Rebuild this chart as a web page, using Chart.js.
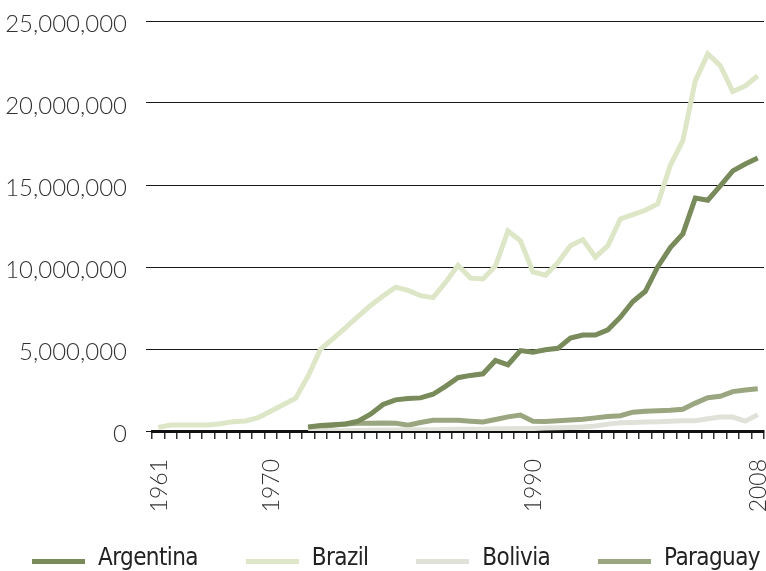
<!DOCTYPE html>
<html lang="en">
<head>
    <meta charset="UTF-8">
    <title>Soybean area, 1961-2008</title>
    <script src="https://cdn.jsdelivr.net/npm/chart.js"></script>
    <style>
        body { margin: 0; background: #fff; }
        .wrap { position: relative; width: 766px; height: 571px; }
        .legend {
            position: absolute; left: 32px; right: 6px; top: 545px;
            display: flex; justify-content: space-between;
            font-family: "Liberation Sans Narrow", "DejaVu Sans Condensed", sans-serif;
            font-size: 24px; line-height: 24px; letter-spacing: -0.6px; color: #222;
        }
        .legend .item { display: flex; align-items: center; }
        .legend .swatch { display: inline-block; width: 53px; height: 5px; margin-right: 13px; position: relative; top: 4px; }
    </style>
</head>
<body>
<div class="wrap">
    <canvas id="areaChart"></canvas>
    <div class="legend" id="legend"></div>
</div>

<script>
    // 49 yearly categories, only four of them are labelled on the axis
    const categoryCount = 49;
    const yearLabels = { 0: '1961', 9: '1970', 30: '1990', 48: '2008' };
    const labels = Array.from({ length: categoryCount }, (_, i) => yearLabels[i] || '');

    const yTicks = [0, 5000000, 10000000, 15000000, 20000000, 25000000];

    const argentina = [
        null, null, null, null, null, null, null, null, null, null, null, null,
        250000, 330000, 380000, 430000, 600000, 1020000, 1620000, 1900000, 1980000, 2020000,
        2240000, 2720000, 3250000, 3390000, 3490000, 4300000, 4040000, 4900000, 4800000, 4950000,
        5040000, 5670000, 5850000, 5850000, 6170000, 6940000, 7900000, 8520000, 10020000, 11180000,
        12020000, 14200000, 14070000, 14950000, 15860000, 16280000, 16650000
    ];
    const brazil = [
        220000, 370000, 370000, 370000, 370000, 440000, 570000, 610000, 820000, 1200000,
        1600000, 2000000, 3350000, 5000000, 5630000, 6310000, 6990000, 7650000, 8230000, 8770000,
        8570000, 8250000, 8130000, 9060000, 10100000, 9330000, 9270000, 10060000, 12200000, 11600000,
        9700000, 9500000, 10260000, 11300000, 11670000, 10600000, 11300000, 12930000, 13200000, 13460000,
        13850000, 16200000, 17700000, 21350000, 22990000, 22270000, 20700000, 21040000, 21660000
    ];
    const bolivia = [
        null, null, null, null, null, null, null, null, null, null, null, null,
        10000, 10000, 20000, 20000, 30000, 40000, 50000, 60000, 70000, 70000,
        80000, 90000, 100000, 100000, 110000, 130000, 140000, 150000, 150000, 180000,
        200000, 220000, 250000, 300000, 420000, 500000, 520000, 550000, 570000, 600000,
        620000, 620000, 750000, 850000, 850000, 600000, 1000000
    ];
    const paraguay = [
        null, null, null, null, null, null, null, null, null, null, null, null,
        150000, 250000, 350000, 430000, 470000, 480000, 490000, 480000, 350000, 520000,
        650000, 650000, 650000, 600000, 550000, 700000, 860000, 970000, 600000, 580000,
        620000, 670000, 720000, 800000, 880000, 930000, 1150000, 1200000, 1240000, 1270000,
        1320000, 1700000, 2030000, 2120000, 2400000, 2500000, 2570000
    ];

    const series = [
        { name: 'Argentina', data: argentina, color: '#798a5b' },
        { name: 'Brazil', data: brazil, color: '#dde6c7' },
        { name: 'Bolivia', data: bolivia, color: '#e0e2da' },
        { name: 'Paraguay', data: paraguay, color: '#99a67f' }
    ];

    Chart.defaults.font.family = 'Lato';
    Chart.defaults.color = '#333';

    const ctx = document.getElementById('areaChart').getContext('2d');
    const areaChart = new Chart(ctx, {
        type: 'line',
        data: {
            labels: labels,
            datasets: series.map(s => ({
                label: s.name,
                data: s.data,
                borderColor: s.color,
                backgroundColor: s.color,
                borderWidth: 5,
                pointRadius: 0,
                tension: 0,
                fill: false
            }))
        },
        options: {
            responsive: true,
            maintainAspectRatio: false,
            animation: false,
            layout: { padding: { top: 21, right: 2, bottom: 0, left: 0 } },
            plugins: {
                legend: { display: false },
                tooltip: { enabled: false }
            },
            scales: {
                x: {
                    type: 'category',
                    offset: true,
                    grid: {
                        offset: true,
                        drawOnChartArea: false,
                        drawTicks: true,
                        tickLength: 8,
                        color: '#333',
                        lineWidth: 1.5
                    },
                    border: { display: true, color: '#111', width: 3 },
                    ticks: {
                        autoSkip: false,
                        minRotation: 90,
                        maxRotation: 90,
                        padding: 20,
                        labelOffset: 1,
                        color: '#333',
                        font: { size: 23, weight: '300' }
                    },
                    afterFit: scale => {
                        scale.height = 140;
                        scale.paddingLeft = 0;
                        scale.paddingRight = 0;
                    }
                },
                y: {
                    min: 0,
                    max: 25000000,
                    afterBuildTicks: scale => {
                        scale.ticks = yTicks.map(v => ({ value: v }));
                    },
                    grid: {
                        color: '#1a1a1a',
                        lineWidth: 1,
                        drawTicks: true,
                        tickLength: 6
                    },
                    border: { display: false },
                    ticks: {
                        padding: 19,
                        labelOffset: 3,
                        color: '#333',
                        font: { size: 24, weight: '300' },
                        callback: v => v.toLocaleString('en-US')
                    },
                    afterFit: scale => {
                        scale.width = 152;
                        scale.paddingTop = 0;
                        scale.paddingBottom = 0;
                    }
                }
            }
        }
    });

    // legend under the plot
    const legendBox = document.getElementById('legend');
    areaChart.data.datasets.forEach(ds => {
        const item = document.createElement('span');
        item.className = 'item';
        item.innerHTML = `<span class="swatch" style="background:${ds.borderColor}"></span>${ds.label}`;
        legendBox.appendChild(item);
    });
</script>
</body>
</html>
